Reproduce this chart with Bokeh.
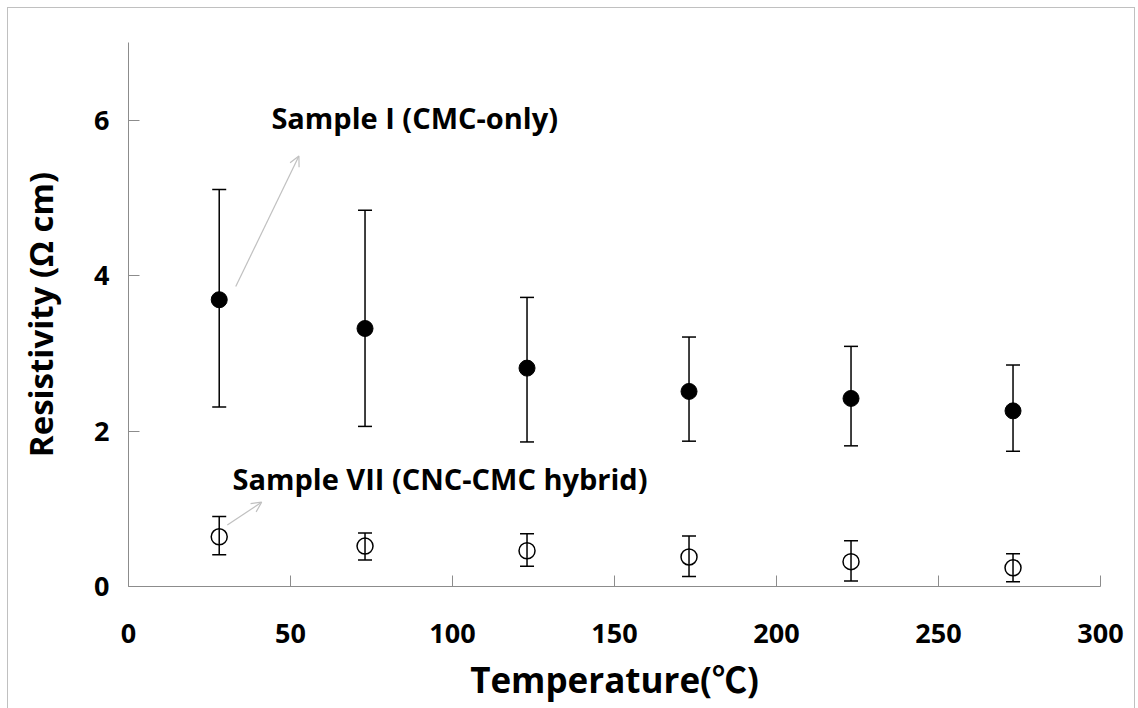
from bokeh.plotting import figure
from bokeh.models import (ColumnDataSource, Range1d, FixedTicker, Whisker, TeeHead,
                          Arrow, OpenHead, Label, InlineStyleSheet)
from bokeh.embed import file_html
from bokeh.resources import INLINE

# ---- data ----
temperature = [28, 73, 123, 173, 223, 273]

sample1_mean = [3.69, 3.32, 2.81, 2.51, 2.42, 2.26]
sample1_upper = [5.11, 4.84, 3.72, 3.21, 3.09, 2.85]
sample1_lower = [2.31, 2.06, 1.86, 1.87, 1.81, 1.74]

sample7_mean = [0.64, 0.52, 0.46, 0.38, 0.32, 0.24]
sample7_upper = [0.90, 0.69, 0.68, 0.65, 0.59, 0.42]
sample7_lower = [0.41, 0.34, 0.26, 0.13, 0.07, 0.06]

x_ticks = [0, 50, 100, 150, 200, 250, 300]
y_ticks = [0, 2, 4, 6]

label1 = "Sample I (CMC-only)"
label7 = "Sample VII (CNC-CMC hybrid)"
x_title = "Temperature(\u2103)"
y_title = "Resistivity (\u03a9 cm)"

FONT = "Open Sans, Noto Sans CJK KR"
AXIS_COLOR = "#8c8c8c"

src1 = ColumnDataSource(dict(x=temperature, y=sample1_mean, up=sample1_upper, lo=sample1_lower))
src7 = ColumnDataSource(dict(x=temperature, y=sample7_mean, up=sample7_upper, lo=sample7_lower))

p = figure(width=1138, height=708, output_backend="svg", toolbar_location=None,
           x_range=Range1d(0, 300), y_range=Range1d(0, 7),
           min_border_left=128, min_border_right=38, min_border_top=42, min_border_bottom=122)
p.outline_line_color = None
p.xgrid.visible = False
p.ygrid.visible = False
p.background_fill_color = "white"
p.border_fill_color = "white"

for ax in (p.xaxis, p.yaxis):
    ax.axis_line_color = AXIS_COLOR
    ax.major_tick_line_color = AXIS_COLOR
    ax.minor_tick_line_color = None
    ax.major_tick_in = 11
    ax.major_tick_out = 0
    ax.major_label_text_font = FONT
    ax.major_label_text_font_style = "bold"
    ax.major_label_text_font_size = "27px"
    ax.major_label_text_color = "black"
    ax.axis_label_text_font = FONT
    ax.axis_label_text_font_style = "bold"
    ax.axis_label_text_color = "black"

p.xaxis.ticker = FixedTicker(ticks=x_ticks)
p.yaxis.ticker = FixedTicker(ticks=y_ticks)
p.xaxis.major_label_standoff = 37
p.yaxis.major_label_standoff = 19
p.xaxis.axis_label = x_title
p.yaxis.axis_label = y_title
p.xaxis.axis_label_text_font_size = "35px"
p.yaxis.axis_label_text_font_size = "33px"
p.xaxis.axis_label_standoff = 10
p.yaxis.axis_label_standoff = 28

# error bars
for src in (src1, src7):
    w = Whisker(source=src, base="x", upper="up", lower="lo",
                line_color="black", line_width=1.5,
                upper_head=TeeHead(size=14, line_color="black", line_width=1.5),
                lower_head=TeeHead(size=14, line_color="black", line_width=1.5))
    p.add_layout(w)

# markers
p.scatter("x", "y", source=src1, marker="circle", size=16,
          fill_color="black", line_color="black")
p.scatter("x", "y", source=src7, marker="circle", size=16,
          fill_alpha=0, line_color="black", line_width=1.5)

# annotation arrows
p.add_layout(Arrow(x_start=33.1, y_start=3.86, x_end=52.6, y_end=5.54,
                   line_color="#c0c0c0", line_width=1.2,
                   end=OpenHead(size=10, line_color="#c0c0c0", line_width=1.2)))
p.add_layout(Arrow(x_start=30.5, y_start=0.79, x_end=41.1, y_end=1.085,
                   line_color="#c0c0c0", line_width=1.2,
                   end=OpenHead(size=10, line_color="#c0c0c0", line_width=1.2)))

p.add_layout(Label(x=44.1, y=6.03, text=label1, text_font=FONT, text_font_style="bold",
                   text_font_size="29px", text_color="black", text_baseline="alphabetic"))
p.add_layout(Label(x=32.1, y=1.39, text=label7, text_font=FONT, text_font_style="bold",
                   text_font_size="29px", text_color="black", text_baseline="alphabetic"))

# outer chart border (light gray frame around the whole chart)
p.stylesheets = [InlineStyleSheet(css="""
:host { position: relative; }
:host::after {
  content: "";
  position: absolute;
  left: 7px; top: 7px; width: 1128px; height: 701px;
  border: 1.5px solid #c0c0c0; border-bottom: none;
  box-sizing: border-box; pointer-events: none; z-index: 100;
}
""")]

open("out.html", "w").write(file_html(p, INLINE))
